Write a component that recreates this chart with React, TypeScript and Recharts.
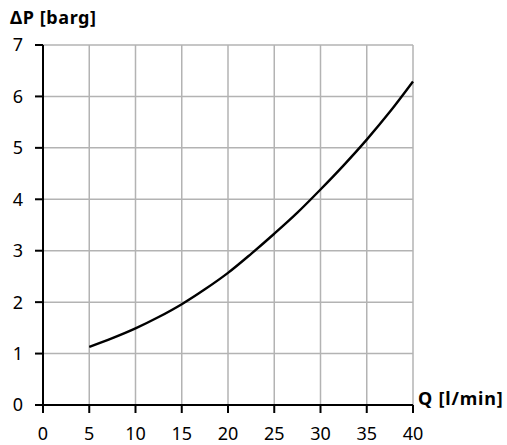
import { LineChart, Line, XAxis, YAxis, CartesianGrid } from 'recharts';

const flowValues = [5, 7.5, 10, 12.5, 15, 17.5, 20, 22.5, 25, 27.5, 30, 32.5, 35, 37.5, 40];
const pressureValues = [1.13, 1.3, 1.49, 1.71, 1.96, 2.25, 2.57, 2.94, 3.33, 3.74, 4.19, 4.66, 5.16, 5.7, 6.29];
const xTicks = [0, 5, 10, 15, 20, 25, 30, 35, 40];
const yTicks = [0, 1, 2, 3, 4, 5, 6, 7];

const data = flowValues.map((q, i) => ({ q, dp: pressureValues[i] }));

const font = '"Noto Sans", sans-serif';

export default function App() {
  return (
    <div style={{ position: 'absolute', left: 0, top: 0, width: 507, height: 445, background: '#fff' }}>
      <LineChart width={507} height={445} data={data} margin={{ top: 45, right: 94, left: 1, bottom: 0 }}>
        <CartesianGrid stroke="#b3b3b3" strokeWidth={1.5} />
        <XAxis
          dataKey="q"
          type="number"
          domain={[0, 40]}
          ticks={xTicks}
          height={40}
          tickSize={8}
          tickMargin={14}
          stroke="#000"
          strokeWidth={2}
          tick={{ fill: '#000', fontSize: 18, fontFamily: font }}
          tickLine={{ stroke: '#000', strokeWidth: 2 }}
        />
        <YAxis
          type="number"
          domain={[0, 7]}
          ticks={yTicks}
          width={42}
          tickSize={8}
          tickMargin={12}
          stroke="#000"
          strokeWidth={2}
          tick={{ fill: '#000', fontSize: 18, fontFamily: font }}
          tickLine={{ stroke: '#000', strokeWidth: 2 }}
        />
        <Line
          type="monotone"
          dataKey="dp"
          stroke="#000"
          strokeWidth={2.4}
          dot={false}
          isAnimationActive={false}
        />
      </LineChart>
      <div
        style={{
          position: 'absolute',
          left: 10,
          top: 5,
          fontFamily: font,
          fontWeight: 700,
          fontSize: 18,
          letterSpacing: 0.6,
          color: '#000',
          lineHeight: '24px',
        }}
      >
        ΔP [barg]
      </div>
      <div
        style={{
          position: 'absolute',
          left: 418,
          top: 386,
          fontFamily: font,
          fontWeight: 700,
          fontSize: 18,
          letterSpacing: 0.8,
          color: '#000',
          lineHeight: '24px',
        }}
      >
        Q [l/min]
      </div>
    </div>
  );
}
